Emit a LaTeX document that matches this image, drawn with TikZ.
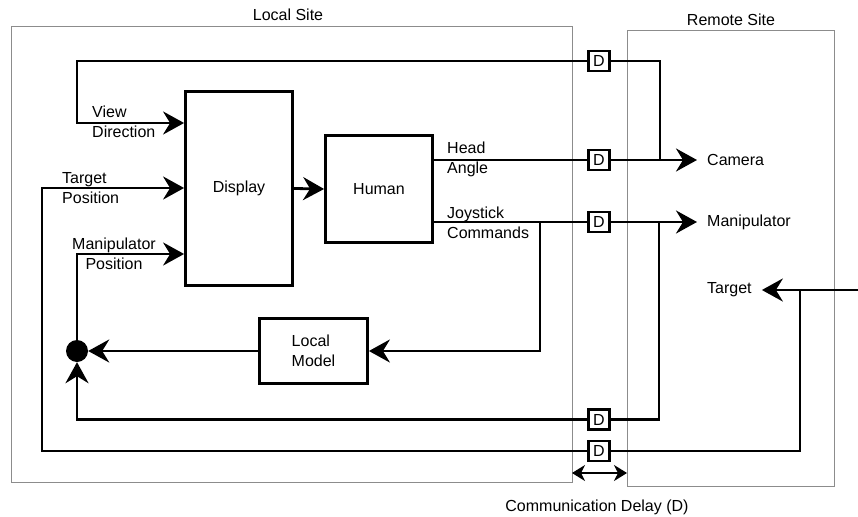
\documentclass[tikz,border=0pt]{standalone}
\usepackage{fontspec}
\setmainfont{Liberation Sans}
\usetikzlibrary{arrows.meta}
\begin{document}
\begin{tikzpicture}[x=1pt,y=-1pt,
  wire/.style={line width=2.8pt},
  arr/.style={wire,-{Stealth[length=21pt,width=23pt,inset=7pt]}},
  block/.style={draw,line width=2.8pt,inner sep=0,font=\fontsize{16}{20}\selectfont,align=left},
  dbox/.style={draw,line width=2.6pt,minimum width=21pt,minimum height=20pt,inner sep=0,fill=white,font=\fontsize{16}{20}\selectfont},
  lbl/.style={align=left,anchor=north west,inner sep=0,font=\fontsize{16}{20}\selectfont},
  site/.style={draw=black!45,line width=0.7pt},
  txt/.style={inner sep=0,font=\fontsize{16}{20}\selectfont},
  endtxt/.style={txt,inner xsep=10pt}
]
\useasboundingbox (0,0) rectangle (858,516);

% site frames
\draw[site] (11,26) rectangle (572,482);
\draw[site] (627,30) rectangle (834,486);
\node[txt] (localsite) at (288,15) {Local Site};
\node[txt] (remotesite) at (731,20) {Remote Site};

% blocks
\node[block,minimum width=107pt,minimum height=194pt] (display) at (239,188.5) {Display};
\node[block,minimum width=107pt,minimum height=107pt] (human) at (379,189) {Human};
\node[block,minimum width=108pt,minimum height=65pt] (localmodel) at (313.5,351) {Local\\Model};
\node[circle,fill,inner sep=0,minimum size=22pt] (sum) at (77,351) {};

% delay boxes
\node[dbox] (d1) at (599,61) {D};
\node[dbox] (d2) at (599,160) {D};
\node[dbox] (d3) at (599,222) {D};
\node[dbox] (d4) at (599,419.5) {D};
\node[dbox] (d5) at (599,451) {D};

% remote texts
\node[endtxt,anchor=west] (camera) at (697,160) {Camera};
\node[endtxt,anchor=west] (manip) at (697,222) {Manipulator};
\node[endtxt,anchor=west] (target) at (697,290) {Target};

% coordinates
\coordinate (vd) at (77,123);
\coordinate (camj) at (660,160);
\coordinate (joyj) at (540,222);
\coordinate (manj) at (659,222);
\coordinate (tin) at (858,290);
\coordinate (tgj) at (800,290);
\coordinate (tp) at (42,188);
\coordinate (mp) at (77,254);

% connectors
\draw[arr] (d1.west) -| (vd) -- (display.west |- vd);
\draw[wire] (d1.east) -| (camj);
\draw[wire] (human.east |- d2) -- (d2.west);
\draw[arr] (d2.east) -- (camera.west);
\draw[wire] (human.east |- d3) -- (d3.west);
\draw[arr] (d3.east) -- (manip.west);
\draw[arr] (joyj) |- (localmodel.east);
\draw[arr] (localmodel.west) -- (sum.east);
\draw[wire] (manj) |- (d4.east);
\draw[arr] (d4.west) -| (sum.south);
\draw[arr] (sum.north) |- (display.west |- mp);
\draw[arr] (tin) -- (target.east);
\draw[wire] (tgj) |- (d5.east);
\draw[arr] (d5.west) -| (tp) -- (display.west |- tp);
\draw[arr] (display.east) -- (human.west);

% labels
\node[lbl] (lview) at (92,106) {View\\Direction};
\node[lbl] (ltarget) at (62,172) {Target\\Position};
\node[lbl,align=center] (lmanip) at (72,238) {Manipulator\\Position};
\node[lbl] (lhead) at (447,142) {Head\\Angle};
\node[lbl] (ljoy) at (447,207) {Joystick\\Commands};

% communication delay
\coordinate (cdl) at (572,473);
\coordinate (cdr) at (627,473);
\draw[line width=1.2pt,{Stealth[length=13pt,width=16pt,inset=4pt]}-{Stealth[length=13pt,width=16pt,inset=4pt]}] (cdl) -- (cdr);
\node[txt] (commdelay) at (597,507) {Communication Delay (D)};
\end{tikzpicture}
\end{document}
